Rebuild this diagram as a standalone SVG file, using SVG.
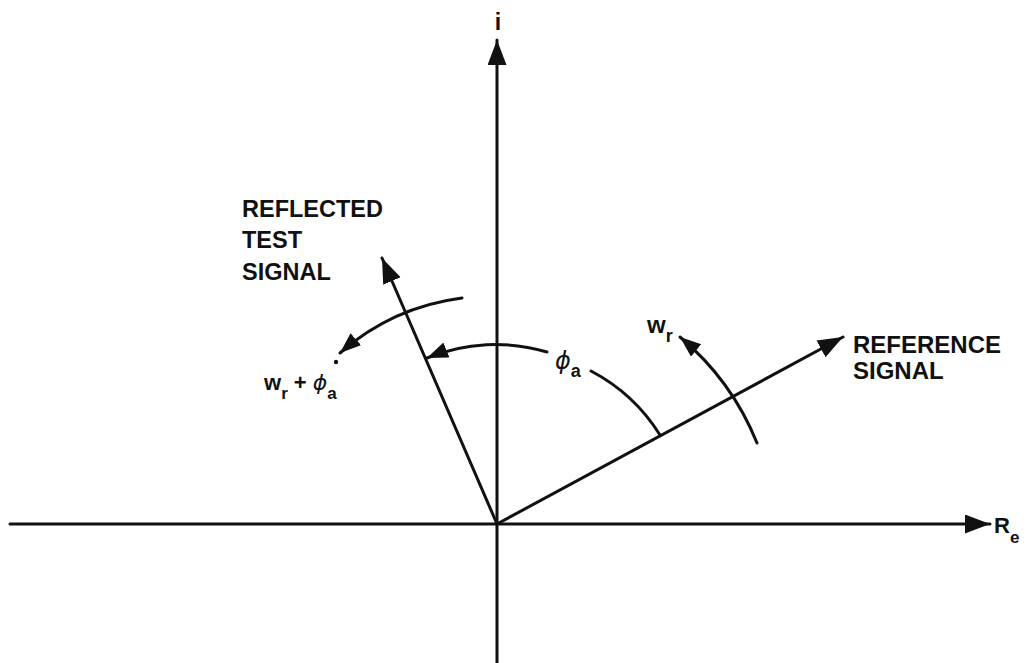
<svg xmlns="http://www.w3.org/2000/svg" width="1029" height="663" viewBox="0 0 1029 663">
<style>
.ln{fill:none;stroke:#111;stroke-width:3;stroke-linecap:round}
.lbl{font-family:"Liberation Sans",Arial,sans-serif;font-weight:bold;fill:#111}
.gr{font-family:"DejaVu Sans","Liberation Sans",sans-serif;font-style:italic;fill:#111}
</style>
<defs>
<marker id="ah" markerUnits="userSpaceOnUse" markerWidth="28" markerHeight="22" refX="25" refY="9.5" orient="auto">
<path d="M0,0 L25,9.5 L0,19 Z" fill="#111"/>
</marker>
<marker id="ahs" markerUnits="userSpaceOnUse" markerWidth="24" markerHeight="18" refX="21" refY="8" orient="auto">
<path d="M0,0 L21,8 L0,16 Z" fill="#111"/>
</marker>
</defs>
<rect width="1029" height="663" fill="#fff"/>
<g id="connectors">
<path class="ln" d="M10,524 L990,524" marker-end="url(#ah)"/>
<path class="ln" d="M497,663 L497,40" marker-end="url(#ah)"/>
<path class="ln" d="M497,524 L382,258" marker-end="url(#ah)"/>
<path class="ln" d="M497,524 L843,337" marker-end="url(#ah)"/>
<path class="ln" d="M660,435 A180,180 0 0 0 591,371"/>
<path class="ln" d="M547,352 A180,180 0 0 0 427,358" marker-end="url(#ahs)"/>
<path class="ln" d="M757,443 A270,270 0 0 0 680,337" marker-end="url(#ahs)"/>
<path class="ln" d="M462,298 A230,230 0 0 0 340,353" marker-end="url(#ahs)"/>
</g>
<g id="axis-i">
<text class="lbl" x="498" y="30" font-size="23" text-anchor="middle">i</text>
</g>
<g id="axis-re">
<text class="lbl" x="994" y="533" font-size="22">R<tspan font-size="17" dy="10">e</tspan></text>
</g>
<g id="reflected-label">
<text class="lbl" font-size="23.5"><tspan x="242" y="217">REFLECTED</tspan><tspan x="242" y="248">TEST</tspan><tspan x="242" y="280">SIGNAL</tspan></text>
</g>
<g id="reference-label">
<text class="lbl" font-size="24"><tspan x="853" y="353">REFERENCE</tspan><tspan x="853" y="379">SIGNAL</tspan></text>
</g>
<g id="wr-label">
<text class="lbl" x="647" y="333" font-size="24">w<tspan font-size="18" dy="9">r</tspan></text>
</g>
<g id="phia-label">
<text class="gr" x="555" y="369" font-size="24">ϕ<tspan font-family="Liberation Sans" font-style="normal" font-weight="bold" font-size="18" dy="8">a</tspan></text>
</g>
<g id="wr-phia-label">
<text class="lbl" x="264" y="390" font-size="22">w<tspan font-size="17" dy="9">r</tspan><tspan font-size="22" dy="-9"> + </tspan><tspan class="gr" font-weight="normal" font-size="22">ϕ</tspan><tspan font-size="17" dy="9">a</tspan></text>
<circle cx="336" cy="362" r="2.2" fill="#111"/>
</g>
</svg>
